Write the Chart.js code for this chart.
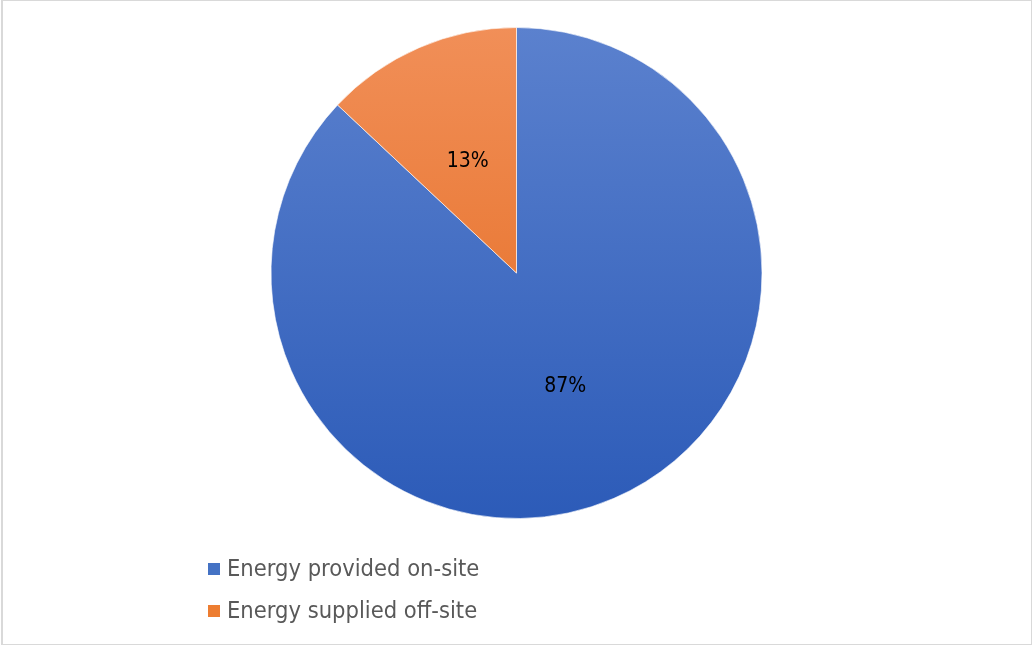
<!DOCTYPE html>
<html>
<head>
<meta charset="utf-8">
<script src="https://cdn.jsdelivr.net/npm/chart.js@4/dist/chart.umd.min.js"></script>
<style>
    html, body { margin: 0; padding: 0; background: #fff; }
    #wrap { position: relative; width: 1033px; height: 646px; overflow: hidden; }
    #frame {
        position: absolute; left: 1px; top: 0; width: 1031px; height: 645px;
        box-sizing: border-box; border: 1px solid #d9d9d9; border-left-width: 2px;
        pointer-events: none;
    }
    #legend {
        position: absolute; left: 208px; top: 551px;
        font-family: 'DejaVu Sans Condensed', 'DejaVu Sans', sans-serif;
        font-size: 23.5px; color: #595959;
    }
    #legend .item { height: 42px; line-height: 34px; white-space: nowrap; }
    #legend .box { display: inline-block; width: 12px; height: 12px; margin-right: 7px; vertical-align: 1px; }
</style>
</head>
<body>
<div id="wrap">
    <canvas id="chartEnergy" width="1033" height="646"></canvas>
    <div id="legend"></div>
    <div id="frame"></div>
</div>
<script>
// ---- data ----
const labels = ['Energy provided on-site', 'Energy supplied off-site'];
const shares = [87, 13];
const topColors = ['#5b81ce', '#f18f58'];
const bottomColors = ['#2c5bb8', '#e3671a'];
const swatch = ['#4472c4', '#ed7d31'];

const labelFont = "'DejaVu Sans Condensed', 'DejaVu Sans', sans-serif";

// vertical gradient across the pie, lighter at the top
function sliceFill(ctx) {
    const area = ctx.chart.chartArea;
    if (!area) return swatch[ctx.dataIndex];
    const g = ctx.chart.ctx.createLinearGradient(0, area.top, 0, area.bottom);
    g.addColorStop(0, topColors[ctx.dataIndex]);
    g.addColorStop(1, bottomColors[ctx.dataIndex]);
    return g;
}

// percentage labels at half radius on each slice
const pctLabels = {
    id: 'pctLabels',
    afterDatasetsDraw(chart) {
        const c = chart.ctx;
        const meta = chart.getDatasetMeta(0);
        const data = chart.data.datasets[0].data;
        const total = data.reduce((a, b) => a + b, 0);
        c.save();
        c.font = '21px ' + labelFont;
        c.fillStyle = '#000';
        c.textAlign = 'center';
        c.textBaseline = 'middle';
        meta.data.forEach((arc, i) => {
            const p = arc.tooltipPosition();
            c.fillText(Math.round(data[i] / total * 100) + '%', p.x, p.y + 1);
        });
        c.restore();
    }
};

const chartEnergy = new Chart(document.getElementById('chartEnergy'), {
    type: 'pie',
    data: {
        labels,
        datasets: [{
            data: shares,
            backgroundColor: sliceFill,
            borderColor: 'rgba(255,255,255,0.6)',
            borderWidth: 1
        }]
    },
    options: {
        responsive: false,
        animation: false,
        layout: { padding: { top: 27, bottom: 127, left: 0, right: 0 } },
        plugins: {
            legend: { display: false },
            tooltip: { enabled: false }
        }
    },
    plugins: [pctLabels]
});

// legend list under the pie
const legendEl = document.getElementById('legend');
labels.forEach((name, i) => {
    const row = document.createElement('div');
    row.className = 'item';
    const box = document.createElement('span');
    box.className = 'box';
    box.style.background = swatch[i];
    row.appendChild(box);
    row.appendChild(document.createTextNode(name));
    legendEl.appendChild(row);
});
</script>
</body>
</html>
